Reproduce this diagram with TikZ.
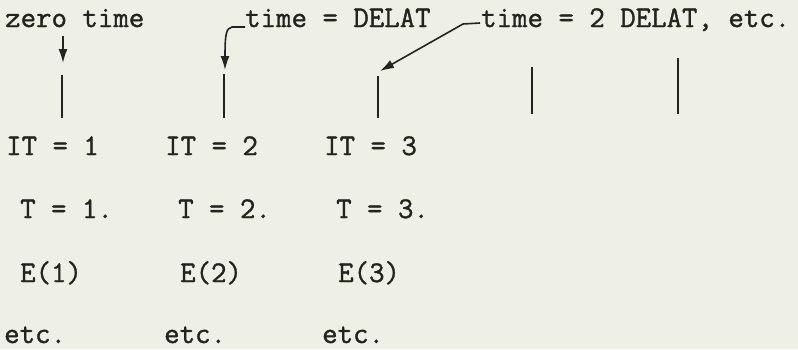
\documentclass[tikz,border=0pt]{standalone}
\usepackage{fontspec}
\newfontfamily\twfont[FakeBold=1.2]{Latin Modern Mono}
\usetikzlibrary{arrows.meta}
\definecolor{paper}{RGB}{239,240,229}
\definecolor{ink}{RGB}{35,35,33}
\tikzset{
  lbl/.style={anchor=base west, inner sep=0pt, font=\fontsize{30}{30}\selectfont\twfont, text=ink},
  tick/.style={draw=ink, line width=2.8pt},
  pointer/.style={draw=ink, line width=1.6pt, -{Latex[length=14pt,width=9pt]}},
}
\begin{document}
\begin{tikzpicture}[x=1pt,y=-1pt]
\fill[paper] (0,0) rectangle (798,349);
\useasboundingbox (0,0) rectangle (798,349);
% header labels
\node[lbl] (zt) at (5,27) {zero time};
\node[lbl] (t1) at (245,27) {time = DELAT};
\node[lbl] (t2) at (481,27) {time = 2 DELAT, etc.};
% tick marks
\coordinate (k1a) at (62,75);  \coordinate (k1b) at (62,118);
\coordinate (k2a) at (224,74); \coordinate (k2b) at (224,118);
\coordinate (k3a) at (378,76); \coordinate (k3b) at (378,118);
\coordinate (k4a) at (532,67); \coordinate (k4b) at (532,114);
\coordinate (k5a) at (678,58); \coordinate (k5b) at (678,114);
\foreach \k in {1,...,5} \draw[tick] (k\k a) -- (k\k b);
% pointers
\coordinate (p1s) at (63,36);  \coordinate (p1e) at (63,63);
\coordinate (p2s) at (245,27); \coordinate (p2e) at (225,70);
\coordinate (p3s) at (480,23); \coordinate (p3m) at (463,24); \coordinate (p3e) at (380,71);
\draw[pointer] (p1s) -- (p1e);
\draw[pointer] (p2s) -- (232,27) .. controls (226,28) and (225,35) .. (p2e);
\draw[pointer] (p3s) -- (p3m) -- (p3e);
% rows
\node[lbl] (it1) at (6,155)   {IT = 1};
\node[lbl] (it2) at (165,155) {IT = 2};
\node[lbl] (it3) at (324,155) {IT = 3};
\node[lbl] (tt1) at (20,218)  {T = 1.};
\node[lbl] (tt2) at (178,218) {T = 2.};
\node[lbl] (tt3) at (336,218) {T = 3.};
\node[lbl] (e1) at (20,282)  {E(1)};
\node[lbl] (e2) at (180,282) {E(2)};
\node[lbl] (e3) at (338,282) {E(3)};
\node[lbl] (c1) at (4,343)   {etc.};
\node[lbl] (c2) at (164,343) {etc.};
\node[lbl] (c3) at (322,343) {etc.};
\end{tikzpicture}
\end{document}
